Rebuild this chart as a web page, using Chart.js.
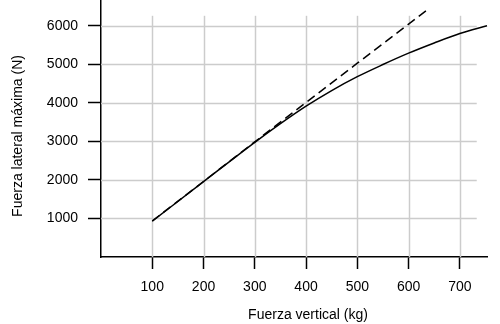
<!DOCTYPE html>
<html>
<head>
<meta charset="utf-8">
<script src="https://cdn.jsdelivr.net/npm/chart.js@4/dist/chart.umd.min.js"></script>
<style>
html,body{margin:0;padding:0;background:#fff;}
#wrap{width:500px;height:324px;position:relative;}
</style>
</head>
<body>
<div id="wrap"><canvas id="c" width="500" height="324"></canvas></div>
<script>
// Data
const solidX = [100, 200, 300, 350, 400, 450, 500, 550, 600, 650, 700, 753];
const solidY = [930, 1955, 2975, 3460, 3915, 4320, 4680, 4995, 5290, 5555, 5800, 6000];
const dashX = [100, 200, 300, 400, 500, 600, 637];
const dashY = [935, 1960, 2990, 4010, 5030, 6045, 6420];
const xTicks = [100, 200, 300, 400, 500, 600, 700];
const yTicks = [1000, 2000, 3000, 4000, 5000, 6000];
const xTitle = 'Fuerza vertical (kg)';
const yTitle = 'Fuerza lateral máxima (N)';

const FONT = "'Liberation Sans', Arial, sans-serif";

const gridPlugin = {
  id: 'partialGrid',
  beforeDatasetsDraw(chart) {
    const {ctx, scales: {x, y}} = chart;
    ctx.save();
    ctx.strokeStyle = '#cccccc';
    ctx.lineWidth = 1.5;
    const gx0 = x.getPixelForValue(0), gx1 = x.getPixelForValue(733);
    const gy0 = y.getPixelForValue(0), gy1 = y.getPixelForValue(6260);
    xTicks.forEach(v => {
      const px = Math.round(x.getPixelForValue(v)) + 0.5;
      ctx.beginPath(); ctx.moveTo(px, gy0); ctx.lineTo(px, gy1); ctx.stroke();
    });
    yTicks.forEach(v => {
      const py = Math.round(y.getPixelForValue(v)) + 0.5;
      ctx.beginPath(); ctx.moveTo(gx0, py); ctx.lineTo(gx1, py); ctx.stroke();
    });
    ctx.restore();
  },
  afterDraw(chart) {
    const {ctx} = chart;
    ctx.save();
    ctx.fillStyle = '#000';
    ctx.font = '14px ' + FONT;
    ctx.textAlign = 'center';
    ctx.textBaseline = 'middle';
    ctx.fillText(xTitle, 308, 315);
    ctx.translate(18, 136);
    ctx.rotate(-Math.PI / 2);
    ctx.fillText(yTitle, 0, 0);
    ctx.restore();
  }
};

new Chart(document.getElementById('c'), {
  type: 'line',
  data: {
    datasets: [
      {
        data: solidX.map((v, i) => ({x: v, y: solidY[i]})),
        borderColor: '#000', borderWidth: 1.5, pointRadius: 0,
        cubicInterpolationMode: 'monotone', fill: false, clip: false
      },
      {
        data: dashX.map((v, i) => ({x: v, y: dashY[i]})),
        borderColor: '#000', borderWidth: 1.5, pointRadius: 0,
        borderDash: [9, 5], tension: 0, fill: false, clip: false
      }
    ]
  },
  options: {
    responsive: false,
    animation: false,
    devicePixelRatio: 1,
    layout: {padding: {top: 0, right: 13, bottom: 0, left: 0}},
    plugins: {legend: {display: false}, tooltip: {enabled: false}},
    scales: {
      x: {
        type: 'linear', min: 0, max: 753,
        afterBuildTicks(s) { s.ticks = xTicks.map(v => ({value: v})); },
        afterFit(s) { s.height = 67; s.paddingLeft = 0; s.paddingRight = 0; },
        grid: {drawOnChartArea: false, tickLength: 12, tickColor: '#000', tickWidth: 1.5},
        border: {color: '#000', width: 1.5},
        ticks: {color: '#000', font: {family: FONT, size: 14}, padding: 10, maxRotation: 0,
                callback: v => String(v)},
        title: {display: false}
      },
      y: {
        type: 'linear', min: 0, max: 6670,
        afterBuildTicks(s) { s.ticks = yTicks.map(v => ({value: v})); },
        afterFit(s) { s.width = 101; s.paddingTop = 0; s.paddingBottom = 0; },
        grid: {drawOnChartArea: false, tickLength: 13, tickColor: '#000', tickWidth: 1.5},
        border: {color: '#000', width: 1.5},
        ticks: {color: '#000', font: {family: FONT, size: 14}, padding: 10,
                callback: v => String(v)},
        title: {display: false}
      }
    }
  },
  plugins: [gridPlugin]
});
</script>
</body>
</html>
